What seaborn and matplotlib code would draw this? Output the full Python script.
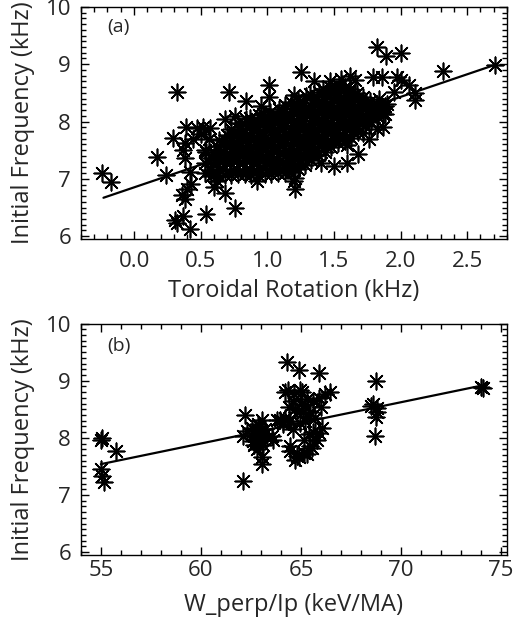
import numpy as np
import pandas as pd
import matplotlib
matplotlib.use('Agg')
import matplotlib.pyplot as plt
from matplotlib.ticker import MultipleLocator
import seaborn as sns

# ---- panel (a): toroidal rotation vs initial frequency ----
# dense core of the cloud, read column by column
core_x = [
    0.58, 0.57, 0.59, 0.58, 0.60,
    0.63, 0.64, 0.62, 0.63, 0.65, 0.62, 0.64,
    0.68, 0.67, 0.69, 0.68, 0.67, 0.69, 0.68, 0.70,
    0.73, 0.74, 0.72, 0.73, 0.74, 0.72, 0.73, 0.75, 0.73,
    0.78, 0.77, 0.79, 0.78, 0.77, 0.79, 0.78, 0.77, 0.79, 0.78,
    0.83, 0.84, 0.82, 0.83, 0.84, 0.82, 0.83, 0.84, 0.82, 0.83, 0.84,
    0.88, 0.87, 0.89, 0.88, 0.87, 0.89, 0.88, 0.87, 0.89, 0.88, 0.87,
    0.93, 0.94, 0.92, 0.93, 0.94, 0.92, 0.93, 0.94, 0.92, 0.93, 0.94,
    0.98, 0.97, 0.99, 0.98, 0.97, 0.99, 0.98, 0.97, 0.99, 0.98, 0.97,
    1.03, 1.04, 1.02, 1.03, 1.04, 1.02, 1.03, 1.04, 1.02, 1.03, 1.04, 1.02,
    1.08, 1.07, 1.09, 1.08, 1.07, 1.09, 1.08, 1.07, 1.09, 1.08, 1.07, 1.09,
    1.13, 1.14, 1.12, 1.13, 1.14, 1.12, 1.13, 1.14, 1.12, 1.13, 1.14, 1.12, 1.13,
    1.18, 1.17, 1.19, 1.18, 1.17, 1.19, 1.18, 1.17, 1.19, 1.18, 1.17, 1.19, 1.18,
    1.23, 1.24, 1.22, 1.23, 1.24, 1.22, 1.23, 1.24, 1.22, 1.23, 1.24, 1.22, 1.23,
    1.28, 1.27, 1.29, 1.28, 1.27, 1.29, 1.28, 1.27, 1.29, 1.28, 1.27, 1.29,
    1.33, 1.34, 1.32, 1.33, 1.34, 1.32, 1.33, 1.34, 1.32, 1.33, 1.34, 1.32,
    1.38, 1.37, 1.39, 1.38, 1.37, 1.39, 1.38, 1.37, 1.39, 1.38, 1.37, 1.39,
    1.43, 1.44, 1.42, 1.43, 1.44, 1.42, 1.43, 1.44, 1.42, 1.43, 1.44, 1.42,
    1.48, 1.47, 1.49, 1.48, 1.47, 1.49, 1.48, 1.47, 1.49, 1.48, 1.47,
    1.53, 1.54, 1.52, 1.53, 1.54, 1.52, 1.53, 1.54, 1.52, 1.53, 1.54,
    1.58, 1.57, 1.59, 1.58, 1.57, 1.59, 1.58, 1.57, 1.59, 1.58,
    1.63, 1.64, 1.62, 1.63, 1.64, 1.62, 1.63, 1.64, 1.62,
    1.68, 1.67, 1.69, 1.68, 1.67, 1.69, 1.68, 1.67,
    1.73, 1.74, 1.72, 1.73, 1.74, 1.72,
    1.78, 1.77, 1.79, 1.78, 1.77,
    1.83, 1.84, 1.82,
    1.88, 1.87,
]
core_y = [
    7.05, 7.16, 7.26, 7.37, 7.47,
    7.07, 7.17, 7.28, 7.37, 7.48, 7.57, 7.67,
    7.07, 7.17, 7.27, 7.38, 7.47, 7.58, 7.68, 7.77,
    7.07, 7.16, 7.27, 7.37, 7.46, 7.57, 7.67, 7.77, 7.87,
    7.08, 7.18, 7.28, 7.37, 7.48, 7.58, 7.67, 7.78, 7.87, 7.97,
    7.08, 7.18, 7.27, 7.37, 7.47, 7.56, 7.66, 7.76, 7.85, 7.95, 8.04,
    7.07, 7.17, 7.27, 7.37, 7.47, 7.57, 7.67, 7.77, 7.87, 7.97, 8.07,
    7.07, 7.18, 7.28, 7.38, 7.49, 7.59, 7.70, 7.80, 7.91, 8.01, 8.12,
    7.08, 7.19, 7.29, 7.40, 7.50, 7.61, 7.71, 7.82, 7.92, 8.03, 8.14,
    7.08, 7.18, 7.28, 7.38, 7.48, 7.58, 7.67, 7.77, 7.87, 7.97, 8.07, 8.17,
    7.10, 7.20, 7.30, 7.40, 7.50, 7.61, 7.71, 7.81, 7.91, 8.01, 8.12, 8.22,
    7.10, 7.20, 7.30, 7.40, 7.50, 7.59, 7.69, 7.79, 7.89, 7.99, 8.09, 8.18, 8.28,
    7.12, 7.22, 7.32, 7.42, 7.53, 7.63, 7.73, 7.83, 7.93, 8.04, 8.14, 8.24, 8.34,
    7.17, 7.27, 7.37, 7.47, 7.58, 7.68, 7.78, 7.89, 7.99, 8.09, 8.19, 8.30, 8.40,
    7.25, 7.36, 7.47, 7.57, 7.68, 7.79, 7.90, 8.01, 8.12, 8.23, 8.33, 8.44,
    7.33, 7.43, 7.54, 7.64, 7.75, 7.85, 7.96, 8.06, 8.17, 8.27, 8.38, 8.48,
    7.41, 7.51, 7.61, 7.71, 7.81, 7.91, 8.02, 8.12, 8.22, 8.32, 8.42, 8.52,
    7.47, 7.57, 7.67, 7.77, 7.87, 7.97, 8.06, 8.16, 8.26, 8.36, 8.46, 8.56,
    7.56, 7.66, 7.77, 7.87, 7.98, 8.08, 8.19, 8.29, 8.40, 8.50, 8.60,
    7.62, 7.72, 7.82, 7.92, 8.02, 8.12, 8.22, 8.32, 8.42, 8.52, 8.62,
    7.66, 7.76, 7.87, 7.97, 8.08, 8.18, 8.29, 8.39, 8.50, 8.60,
    7.72, 7.83, 7.93, 8.04, 8.14, 8.25, 8.35, 8.46, 8.56,
    7.82, 7.92, 8.02, 8.12, 8.21, 8.31, 8.41, 8.50,
    7.92, 8.02, 8.12, 8.22, 8.32, 8.42,
    8.00, 8.09, 8.18, 8.27, 8.36,
    8.08, 8.19, 8.30,
    8.14, 8.26,
]
# scattered shots around the core
edge_x = [
    -0.24, -0.17, 0.17, 0.24, 0.32, 0.29, 0.39, 0.47, 0.52, 0.44,
    0.38, 0.37, 0.38, 0.53, 0.56, 0.42, 0.53, 0.43, 0.40, 0.36,
    0.38, 0.31, 0.32, 0.37, 0.42, 0.54, 0.76, 0.68, 0.60, 0.54,
    0.53, 0.57, 0.50, 0.71, 0.84, 1.01, 1.01, 0.76, 0.68, 1.25,
    1.35, 1.20, 0.95, 1.82, 1.89, 2.00, 1.79, 1.86, 1.97, 2.00,
    2.06, 2.11, 2.11, 1.95, 2.32, 2.71, 1.55, 1.62, 1.47, 1.66,
    1.82, 1.87, 1.68, 1.60, 1.50, 1.40, 1.21, 1.21, 1.20, 0.92,
    1.60, 1.64, 1.76, 1.84, 1.88, 1.87, 1.85, 1.90, 1.72, 0.62,
]
edge_y = [
    7.11, 6.94, 7.38, 7.07, 8.51, 7.72, 7.90, 7.88, 7.90, 7.70,
    7.62, 7.50, 7.37, 7.50, 7.70, 7.12, 7.10, 6.91, 6.82, 6.71,
    6.65, 6.28, 6.23, 6.35, 6.12, 6.39, 6.50, 6.76, 6.85, 7.46,
    7.28, 7.88, 7.78, 8.52, 8.35, 8.64, 8.42, 8.10, 8.05, 8.87,
    8.71, 8.47, 8.27, 9.30, 9.14, 9.20, 8.77, 8.77, 8.77, 8.73,
    8.63, 8.49, 8.37, 8.52, 8.88, 8.99, 8.74, 8.79, 8.70, 8.73,
    7.87, 7.90, 7.44, 7.28, 7.23, 7.27, 6.82, 7.02, 6.96, 6.96,
    7.59, 7.81, 7.70, 8.39, 8.27, 8.13, 8.25, 8.30, 7.80, 6.97,
]
fit_a_x = [-0.23, 2.71]
fit_a_y = [6.67, 8.99]

# ---- panel (b): W_perp/Ip vs initial frequency ----
wperp_x = [
    55.00, 55.05, 55.75, 55.00, 55.05, 55.15,
    62.10, 62.20, 62.12, 62.30, 62.54, 62.60, 62.79, 62.70, 62.85, 63.04,
    63.00, 62.95, 63.04, 63.04, 63.10, 63.20, 62.90, 63.30, 63.54, 62.75,
    63.15, 62.65, 63.62, 63.96, 63.80, 64.10,
    64.30, 64.88, 65.88, 64.20, 64.35, 64.63, 64.97, 65.05, 66.22, 66.47,
    65.88, 64.38, 64.80, 65.22, 65.47, 65.72, 66.00, 64.46, 64.97, 66.05,
    65.38, 65.13, 65.80, 65.47, 64.46, 64.46, 64.80, 65.13, 65.30, 65.55,
    65.88, 64.90, 64.70, 65.20, 65.00, 64.60, 65.30, 64.20, 64.60, 65.60,
    65.10, 65.40, 65.60, 64.70, 64.10,
    68.73, 68.60, 68.50, 68.80, 68.75, 68.70, 68.80,
    74.00, 74.10,
]
wperp_y = [
    7.97, 8.00, 7.77, 7.46, 7.34, 7.23,
    7.25, 8.40, 8.03, 8.12, 8.17, 7.95, 7.80, 8.05, 8.25, 8.31,
    8.09, 7.97, 7.66, 7.54, 7.88, 8.15, 8.20, 8.00, 8.03, 7.95,
    8.05, 7.88, 7.97, 8.31, 8.31, 8.25,
    9.32, 9.19, 9.13, 8.80, 8.83, 8.77, 8.83, 8.80, 8.77, 8.80,
    8.69, 8.54, 8.46, 8.57, 8.46, 8.34, 8.54, 8.29, 8.26, 8.17,
    8.06, 7.97, 7.97, 7.86, 7.86, 7.77, 7.68, 7.74, 7.72, 7.82,
    8.09, 7.66, 7.62, 8.30, 8.60, 8.65, 8.68, 8.35, 8.15, 8.65,
    8.45, 8.38, 8.10, 8.50, 8.27,
    9.00, 8.60, 8.55, 8.52, 8.37, 8.03, 8.45,
    8.89, 8.87,
]
fit_b_x = [55.0, 74.1]
fit_b_y = [7.54, 8.92]

df_a = pd.DataFrame({'x': core_x + edge_x, 'y': core_y + edge_y})
df_b = pd.DataFrame({'x': wperp_x, 'y': wperp_y})

sns.set_style('ticks')
plt.rcParams['font.family'] = ['Open Sans', 'DejaVu Sans']
plt.rcParams['axes.linewidth'] = 1.0

STAR = (8, 2, 0)
TICK_FS = 16
LABEL_FS = 17

fig = plt.figure(figsize=(5.18, 6.29), dpi=100)
ax_a = fig.add_axes([0.156, 0.620, 0.823, 0.369])
ax_b = fig.add_axes([0.156, 0.1176, 0.823, 0.368])


def style_axis(ax, xmaj, xmin_, xpad):
    ax.xaxis.set_major_locator(MultipleLocator(xmaj))
    ax.xaxis.set_minor_locator(MultipleLocator(xmin_))
    ax.yaxis.set_major_locator(MultipleLocator(1))
    ax.yaxis.set_minor_locator(MultipleLocator(0.1))
    ax.tick_params(which='both', direction='in', top=True, right=True,
                   color='black', width=1.0)
    ax.tick_params(which='major', length=6, labelsize=TICK_FS)
    ax.tick_params(which='minor', length=3.5)
    ax.tick_params(axis='x', which='major', pad=xpad)
    ax.tick_params(axis='y', which='major', pad=7)
    ax.set_ylim(5.95, 10.0)
    ax.set_ylabel('Initial Frequency (kHz)', fontsize=LABEL_FS)
    ax.yaxis.set_label_coords(-0.108, 0.5)
    for sp in ax.spines.values():
        sp.set_color('black')


sns.scatterplot(data=df_a, x='x', y='y', ax=ax_a, marker=STAR, s=140,
                color='black', linewidth=1.2, legend=False)
sns.lineplot(x=fit_a_x, y=fit_a_y, ax=ax_a, color='black', lw=1.6)
style_axis(ax_a, 0.5, 0.1, 8.5)
ax_a.set_xlim(-0.4, 2.8)
ax_a.set_xlabel('Toroidal Rotation (kHz)', fontsize=LABEL_FS)
ax_a.xaxis.set_label_coords(0.5, -0.172)
ax_a.text(0.061, 0.914, '(a)', transform=ax_a.transAxes, fontsize=14,
          va='center', ha='left')

sns.scatterplot(data=df_b, x='x', y='y', ax=ax_b, marker=STAR, s=140,
                color='black', linewidth=1.2, legend=False)
sns.lineplot(x=fit_b_x, y=fit_b_y, ax=ax_b, color='black', lw=1.6)
style_axis(ax_b, 5, 1, 3.5)
ax_b.set_xlim(54.0, 75.3)
ax_b.set_xlabel('W_perp/Ip (keV/MA)', fontsize=LABEL_FS)
ax_b.xaxis.set_label_coords(0.5, -0.164)
ax_b.text(0.061, 0.903, '(b)', transform=ax_b.transAxes, fontsize=14,
          va='center', ha='left')

fig.savefig('out.png', dpi=100, facecolor='white')
